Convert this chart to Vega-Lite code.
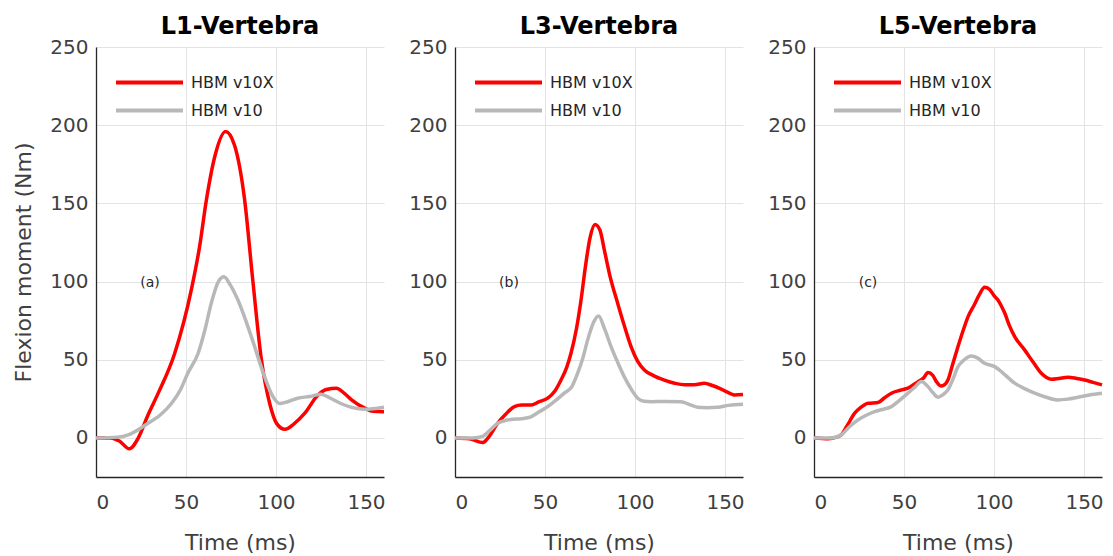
{
  "$schema": "https://vega.github.io/schema/vega-lite/v6.json",
  "padding": {"left": 12, "top": 15, "right": 5, "bottom": 5},
  "background": "white",
  "datasets": {
    "curves": [
      {"panel": "L1", "model": "HBM v10X", "t": 0, "m": 0},
      {"panel": "L1", "model": "HBM v10X", "t": 8, "m": 0},
      {"panel": "L1", "model": "HBM v10X", "t": 13, "m": -2},
      {"panel": "L1", "model": "HBM v10X", "t": 18.5, "m": -7},
      {"panel": "L1", "model": "HBM v10X", "t": 23.5, "m": 0},
      {"panel": "L1", "model": "HBM v10X", "t": 29, "m": 15},
      {"panel": "L1", "model": "HBM v10X", "t": 34.5, "m": 28.5},
      {"panel": "L1", "model": "HBM v10X", "t": 43.7, "m": 54},
      {"panel": "L1", "model": "HBM v10X", "t": 53, "m": 95},
      {"panel": "L1", "model": "HBM v10X", "t": 57.5, "m": 122},
      {"panel": "L1", "model": "HBM v10X", "t": 61.3, "m": 152},
      {"panel": "L1", "model": "HBM v10X", "t": 66, "m": 180},
      {"panel": "L1", "model": "HBM v10X", "t": 72, "m": 196},
      {"panel": "L1", "model": "HBM v10X", "t": 77, "m": 187},
      {"panel": "L1", "model": "HBM v10X", "t": 82.6, "m": 152},
      {"panel": "L1", "model": "HBM v10X", "t": 87, "m": 102},
      {"panel": "L1", "model": "HBM v10X", "t": 91.9, "m": 50},
      {"panel": "L1", "model": "HBM v10X", "t": 96.5, "m": 22},
      {"panel": "L1", "model": "HBM v10X", "t": 100.5, "m": 9},
      {"panel": "L1", "model": "HBM v10X", "t": 105, "m": 5.5},
      {"panel": "L1", "model": "HBM v10X", "t": 110, "m": 9},
      {"panel": "L1", "model": "HBM v10X", "t": 116, "m": 15.8},
      {"panel": "L1", "model": "HBM v10X", "t": 123.3, "m": 27.5},
      {"panel": "L1", "model": "HBM v10X", "t": 128, "m": 31},
      {"panel": "L1", "model": "HBM v10X", "t": 133.5, "m": 31.8},
      {"panel": "L1", "model": "HBM v10X", "t": 138, "m": 28.5},
      {"panel": "L1", "model": "HBM v10X", "t": 142, "m": 24.3},
      {"panel": "L1", "model": "HBM v10X", "t": 149.3, "m": 19},
      {"panel": "L1", "model": "HBM v10X", "t": 154, "m": 17},
      {"panel": "L1", "model": "HBM v10X", "t": 160, "m": 16.8},
      {"panel": "L1", "model": "HBM v10", "t": 0, "m": 0},
      {"panel": "L1", "model": "HBM v10", "t": 12, "m": 0.5},
      {"panel": "L1", "model": "HBM v10", "t": 18, "m": 2},
      {"panel": "L1", "model": "HBM v10", "t": 28.9, "m": 9.4},
      {"panel": "L1", "model": "HBM v10", "t": 36, "m": 15},
      {"panel": "L1", "model": "HBM v10", "t": 41.9, "m": 22},
      {"panel": "L1", "model": "HBM v10", "t": 47, "m": 31},
      {"panel": "L1", "model": "HBM v10", "t": 51, "m": 41.4},
      {"panel": "L1", "model": "HBM v10", "t": 56.7, "m": 54},
      {"panel": "L1", "model": "HBM v10", "t": 60.5, "m": 69},
      {"panel": "L1", "model": "HBM v10", "t": 64, "m": 86},
      {"panel": "L1", "model": "HBM v10", "t": 68, "m": 100},
      {"panel": "L1", "model": "HBM v10", "t": 71.1, "m": 103},
      {"panel": "L1", "model": "HBM v10", "t": 74.5, "m": 98},
      {"panel": "L1", "model": "HBM v10", "t": 78.9, "m": 88},
      {"panel": "L1", "model": "HBM v10", "t": 86.3, "m": 64.8},
      {"panel": "L1", "model": "HBM v10", "t": 93.7, "m": 39},
      {"panel": "L1", "model": "HBM v10", "t": 98, "m": 27},
      {"panel": "L1", "model": "HBM v10", "t": 102, "m": 22},
      {"panel": "L1", "model": "HBM v10", "t": 106, "m": 23},
      {"panel": "L1", "model": "HBM v10", "t": 112, "m": 25.4},
      {"panel": "L1", "model": "HBM v10", "t": 119, "m": 26.5},
      {"panel": "L1", "model": "HBM v10", "t": 125, "m": 28},
      {"panel": "L1", "model": "HBM v10", "t": 130, "m": 25.5},
      {"panel": "L1", "model": "HBM v10", "t": 136, "m": 22},
      {"panel": "L1", "model": "HBM v10", "t": 142, "m": 19.5},
      {"panel": "L1", "model": "HBM v10", "t": 149.3, "m": 18.3},
      {"panel": "L1", "model": "HBM v10", "t": 160, "m": 19.6},
      {"panel": "L3", "model": "HBM v10X", "t": 0, "m": 0},
      {"panel": "L3", "model": "HBM v10X", "t": 8, "m": -0.5},
      {"panel": "L3", "model": "HBM v10X", "t": 15.4, "m": -3},
      {"panel": "L3", "model": "HBM v10X", "t": 19, "m": 1},
      {"panel": "L3", "model": "HBM v10X", "t": 23.7, "m": 9.4},
      {"panel": "L3", "model": "HBM v10X", "t": 28, "m": 15},
      {"panel": "L3", "model": "HBM v10X", "t": 33, "m": 20},
      {"panel": "L3", "model": "HBM v10X", "t": 37, "m": 21},
      {"panel": "L3", "model": "HBM v10X", "t": 42.2, "m": 21},
      {"panel": "L3", "model": "HBM v10X", "t": 46.5, "m": 23},
      {"panel": "L3", "model": "HBM v10X", "t": 51.5, "m": 25.4},
      {"panel": "L3", "model": "HBM v10X", "t": 55.5, "m": 30},
      {"panel": "L3", "model": "HBM v10X", "t": 58.9, "m": 37},
      {"panel": "L3", "model": "HBM v10X", "t": 62, "m": 45},
      {"panel": "L3", "model": "HBM v10X", "t": 64.4, "m": 54},
      {"panel": "L3", "model": "HBM v10X", "t": 67.5, "m": 70},
      {"panel": "L3", "model": "HBM v10X", "t": 70, "m": 88},
      {"panel": "L3", "model": "HBM v10X", "t": 72.5, "m": 110},
      {"panel": "L3", "model": "HBM v10X", "t": 75, "m": 128},
      {"panel": "L3", "model": "HBM v10X", "t": 77.8, "m": 136.5},
      {"panel": "L3", "model": "HBM v10X", "t": 80.5, "m": 133},
      {"panel": "L3", "model": "HBM v10X", "t": 83, "m": 120},
      {"panel": "L3", "model": "HBM v10X", "t": 86, "m": 104},
      {"panel": "L3", "model": "HBM v10X", "t": 90.4, "m": 86},
      {"panel": "L3", "model": "HBM v10X", "t": 94, "m": 72},
      {"panel": "L3", "model": "HBM v10X", "t": 97.8, "m": 58.4},
      {"panel": "L3", "model": "HBM v10X", "t": 101.5, "m": 49},
      {"panel": "L3", "model": "HBM v10X", "t": 105.2, "m": 43.5},
      {"panel": "L3", "model": "HBM v10X", "t": 110, "m": 40},
      {"panel": "L3", "model": "HBM v10X", "t": 116.3, "m": 37},
      {"panel": "L3", "model": "HBM v10X", "t": 122, "m": 35},
      {"panel": "L3", "model": "HBM v10X", "t": 127.4, "m": 34},
      {"panel": "L3", "model": "HBM v10X", "t": 133, "m": 34},
      {"panel": "L3", "model": "HBM v10X", "t": 138.5, "m": 35},
      {"panel": "L3", "model": "HBM v10X", "t": 143, "m": 33.5},
      {"panel": "L3", "model": "HBM v10X", "t": 149.6, "m": 30.3},
      {"panel": "L3", "model": "HBM v10X", "t": 155.2, "m": 27.5},
      {"panel": "L3", "model": "HBM v10X", "t": 160, "m": 27.8},
      {"panel": "L3", "model": "HBM v10", "t": 0, "m": 0},
      {"panel": "L3", "model": "HBM v10", "t": 10, "m": 0},
      {"panel": "L3", "model": "HBM v10", "t": 15.4, "m": 1},
      {"panel": "L3", "model": "HBM v10", "t": 19.5, "m": 5},
      {"panel": "L3", "model": "HBM v10", "t": 23.7, "m": 9.4},
      {"panel": "L3", "model": "HBM v10", "t": 27.5, "m": 11},
      {"panel": "L3", "model": "HBM v10", "t": 31, "m": 11.8},
      {"panel": "L3", "model": "HBM v10", "t": 37, "m": 12.3},
      {"panel": "L3", "model": "HBM v10", "t": 42.2, "m": 13.5},
      {"panel": "L3", "model": "HBM v10", "t": 46.5, "m": 16.5},
      {"panel": "L3", "model": "HBM v10", "t": 51.5, "m": 20},
      {"panel": "L3", "model": "HBM v10", "t": 56, "m": 24},
      {"panel": "L3", "model": "HBM v10", "t": 60.7, "m": 28.6},
      {"panel": "L3", "model": "HBM v10", "t": 65, "m": 33},
      {"panel": "L3", "model": "HBM v10", "t": 68.1, "m": 41.3},
      {"panel": "L3", "model": "HBM v10", "t": 71, "m": 51},
      {"panel": "L3", "model": "HBM v10", "t": 73.7, "m": 62.7},
      {"panel": "L3", "model": "HBM v10", "t": 77, "m": 74},
      {"panel": "L3", "model": "HBM v10", "t": 79.8, "m": 78},
      {"panel": "L3", "model": "HBM v10", "t": 83, "m": 70},
      {"panel": "L3", "model": "HBM v10", "t": 86.7, "m": 58.4},
      {"panel": "L3", "model": "HBM v10", "t": 90.5, "m": 48},
      {"panel": "L3", "model": "HBM v10", "t": 94, "m": 39.2},
      {"panel": "L3", "model": "HBM v10", "t": 98, "m": 31},
      {"panel": "L3", "model": "HBM v10", "t": 101.5, "m": 25.4},
      {"panel": "L3", "model": "HBM v10", "t": 105, "m": 23.5},
      {"panel": "L3", "model": "HBM v10", "t": 108.9, "m": 23.2},
      {"panel": "L3", "model": "HBM v10", "t": 117, "m": 23.3},
      {"panel": "L3", "model": "HBM v10", "t": 125.6, "m": 23.2},
      {"panel": "L3", "model": "HBM v10", "t": 130, "m": 21.5},
      {"panel": "L3", "model": "HBM v10", "t": 134.8, "m": 19.6},
      {"panel": "L3", "model": "HBM v10", "t": 140, "m": 19.3},
      {"panel": "L3", "model": "HBM v10", "t": 145.9, "m": 19.6},
      {"panel": "L3", "model": "HBM v10", "t": 152, "m": 20.8},
      {"panel": "L3", "model": "HBM v10", "t": 160, "m": 21.5},
      {"panel": "L5", "model": "HBM v10X", "t": 0, "m": 0},
      {"panel": "L5", "model": "HBM v10X", "t": 8, "m": -0.5},
      {"panel": "L5", "model": "HBM v10X", "t": 12, "m": 0.3},
      {"panel": "L5", "model": "HBM v10X", "t": 15.2, "m": 2},
      {"panel": "L5", "model": "HBM v10X", "t": 18.5, "m": 8},
      {"panel": "L5", "model": "HBM v10X", "t": 22.6, "m": 15.8},
      {"panel": "L5", "model": "HBM v10X", "t": 26, "m": 19.5},
      {"panel": "L5", "model": "HBM v10X", "t": 30, "m": 22.2},
      {"panel": "L5", "model": "HBM v10X", "t": 35.6, "m": 22.6},
      {"panel": "L5", "model": "HBM v10X", "t": 39, "m": 25.5},
      {"panel": "L5", "model": "HBM v10X", "t": 43, "m": 28.6},
      {"panel": "L5", "model": "HBM v10X", "t": 48, "m": 30.5},
      {"panel": "L5", "model": "HBM v10X", "t": 52.2, "m": 31.8},
      {"panel": "L5", "model": "HBM v10X", "t": 57.8, "m": 36},
      {"panel": "L5", "model": "HBM v10X", "t": 61, "m": 38.5},
      {"panel": "L5", "model": "HBM v10X", "t": 63.3, "m": 41.8},
      {"panel": "L5", "model": "HBM v10X", "t": 66, "m": 40},
      {"panel": "L5", "model": "HBM v10X", "t": 68, "m": 36},
      {"panel": "L5", "model": "HBM v10X", "t": 70.4, "m": 33.2},
      {"panel": "L5", "model": "HBM v10X", "t": 72.5, "m": 34},
      {"panel": "L5", "model": "HBM v10X", "t": 74.4, "m": 37},
      {"panel": "L5", "model": "HBM v10X", "t": 77, "m": 47},
      {"panel": "L5", "model": "HBM v10X", "t": 80, "m": 58.4},
      {"panel": "L5", "model": "HBM v10X", "t": 82.8, "m": 68.5},
      {"panel": "L5", "model": "HBM v10X", "t": 85.6, "m": 77.6},
      {"panel": "L5", "model": "HBM v10X", "t": 89, "m": 85},
      {"panel": "L5", "model": "HBM v10X", "t": 92, "m": 92},
      {"panel": "L5", "model": "HBM v10X", "t": 94.8, "m": 96.3},
      {"panel": "L5", "model": "HBM v10X", "t": 97.5, "m": 95},
      {"panel": "L5", "model": "HBM v10X", "t": 100, "m": 91},
      {"panel": "L5", "model": "HBM v10X", "t": 102.2, "m": 88.2},
      {"panel": "L5", "model": "HBM v10X", "t": 104, "m": 84.5},
      {"panel": "L5", "model": "HBM v10X", "t": 105.9, "m": 80},
      {"panel": "L5", "model": "HBM v10X", "t": 108.5, "m": 72},
      {"panel": "L5", "model": "HBM v10X", "t": 111.5, "m": 64.8},
      {"panel": "L5", "model": "HBM v10X", "t": 117, "m": 56.3},
      {"panel": "L5", "model": "HBM v10X", "t": 122, "m": 48},
      {"panel": "L5", "model": "HBM v10X", "t": 126.3, "m": 41.3},
      {"panel": "L5", "model": "HBM v10X", "t": 131.9, "m": 37.5},
      {"panel": "L5", "model": "HBM v10X", "t": 136, "m": 38},
      {"panel": "L5", "model": "HBM v10X", "t": 141.1, "m": 38.8},
      {"panel": "L5", "model": "HBM v10X", "t": 146, "m": 38},
      {"panel": "L5", "model": "HBM v10X", "t": 150.4, "m": 37},
      {"panel": "L5", "model": "HBM v10X", "t": 155, "m": 35.5},
      {"panel": "L5", "model": "HBM v10X", "t": 160, "m": 33.9},
      {"panel": "L5", "model": "HBM v10", "t": 0, "m": 0},
      {"panel": "L5", "model": "HBM v10", "t": 10, "m": 0},
      {"panel": "L5", "model": "HBM v10", "t": 15.2, "m": 2},
      {"panel": "L5", "model": "HBM v10", "t": 19.5, "m": 7},
      {"panel": "L5", "model": "HBM v10", "t": 24.4, "m": 11.5},
      {"panel": "L5", "model": "HBM v10", "t": 29, "m": 14.5},
      {"panel": "L5", "model": "HBM v10", "t": 33.7, "m": 16.8},
      {"panel": "L5", "model": "HBM v10", "t": 38, "m": 18.2},
      {"panel": "L5", "model": "HBM v10", "t": 43, "m": 20},
      {"panel": "L5", "model": "HBM v10", "t": 47.5, "m": 24},
      {"panel": "L5", "model": "HBM v10", "t": 52.2, "m": 28.6},
      {"panel": "L5", "model": "HBM v10", "t": 56, "m": 32.5},
      {"panel": "L5", "model": "HBM v10", "t": 59.6, "m": 36},
      {"panel": "L5", "model": "HBM v10", "t": 63.3, "m": 32.8},
      {"panel": "L5", "model": "HBM v10", "t": 66, "m": 29},
      {"panel": "L5", "model": "HBM v10", "t": 68.9, "m": 26},
      {"panel": "L5", "model": "HBM v10", "t": 71.5, "m": 27.5},
      {"panel": "L5", "model": "HBM v10", "t": 74.4, "m": 30.7},
      {"panel": "L5", "model": "HBM v10", "t": 77, "m": 37},
      {"panel": "L5", "model": "HBM v10", "t": 80, "m": 45.6},
      {"panel": "L5", "model": "HBM v10", "t": 83.5, "m": 50},
      {"panel": "L5", "model": "HBM v10", "t": 87.4, "m": 52.4},
      {"panel": "L5", "model": "HBM v10", "t": 91, "m": 51},
      {"panel": "L5", "model": "HBM v10", "t": 94.8, "m": 47.7},
      {"panel": "L5", "model": "HBM v10", "t": 100.4, "m": 45.6},
      {"panel": "L5", "model": "HBM v10", "t": 105, "m": 41.5},
      {"panel": "L5", "model": "HBM v10", "t": 111.5, "m": 35},
      {"panel": "L5", "model": "HBM v10", "t": 117, "m": 31.5},
      {"panel": "L5", "model": "HBM v10", "t": 122.6, "m": 28.6},
      {"panel": "L5", "model": "HBM v10", "t": 129, "m": 26},
      {"panel": "L5", "model": "HBM v10", "t": 135.6, "m": 24.3},
      {"panel": "L5", "model": "HBM v10", "t": 141, "m": 24.8},
      {"panel": "L5", "model": "HBM v10", "t": 146.7, "m": 26},
      {"panel": "L5", "model": "HBM v10", "t": 153, "m": 27.5},
      {"panel": "L5", "model": "HBM v10", "t": 160, "m": 28.6}
    ],
    "labels": [
      {"panel": "L1", "t": 30, "m": 99, "label": "(a)"},
      {"panel": "L3", "t": 30, "m": 99, "label": "(b)"},
      {"panel": "L5", "t": 30, "m": 99, "label": "(c)"}
    ]
  },
  "config": {
    "font": "DejaVu Sans",
    "view": {"stroke": null},
    "axis": {
      "grid": true,
      "gridColor": "#e3e3e3",
      "gridWidth": 1,
      "domainColor": "#262626",
      "domainWidth": 1.3,
      "ticks": false,
      "labelFont": "DejaVu Sans",
      "titleFont": "DejaVu Sans",
      "labelFontSize": 20,
      "labelColor": "#404040",
      "titleFontSize": 22,
      "titleFontWeight": "normal",
      "titleColor": "#404040"
    },
    "title": {
      "font": "DejaVu Sans",
      "fontSize": 24,
      "fontWeight": "bold",
      "color": "#000000",
      "frame": "group",
      "offset": -2
    },
    "legend": {
      "orient": "none",
      "legendX": 18,
      "legendY": 27.5,
      "symbolType": "stroke",
      "symbolStrokeWidth": 4,
      "symbolSize": 4489,
      "clipHeight": 16,
      "rowPadding": 12,
      "labelFont": "DejaVu Sans",
      "labelFontSize": 16,
      "labelColor": "#262626",
      "labelOffset": 6,
      "padding": 0
    }
  },
  "resolve": {"legend": {"color": "independent"}},
  "spacing": 71,
  "bounds": "flush",
  "hconcat": [
    {
      "width": 288,
      "height": 430,
      "title": {"text": "L1-Vertebra"},
      "layer": [
        {
          "data": {"name": "curves"},
          "transform": [{"filter": "datum.panel === 'L1'"}],
          "mark": {"type": "line", "strokeWidth": 3.5, "interpolate": "monotone"},
          "encoding": {
            "x": {"field": "t", "type": "quantitative", "title": "Time (ms)", "scale": {"domain": [0, 160], "nice": false}, "axis": {"values": [0, 50, 100, 150], "labelPadding": 15, "titlePadding": 20}},
            "y": {"field": "m", "type": "quantitative", "title": "Flexion moment (Nm)", "scale": {"domain": [-25, 250], "nice": false}, "axis": {"values": [0, 50, 100, 150, 200, 250], "labelPadding": 8, "titlePadding": 14}},
            "color": {"field": "model", "type": "nominal", "title": null, "scale": {"domain": ["HBM v10X", "HBM v10"], "range": ["#ff0000", "#b8b8b8"]}}
          }
        },
        {
          "data": {"name": "labels"},
          "transform": [{"filter": "datum.panel === 'L1'"}],
          "mark": {"type": "text", "fontSize": 14, "color": "#262626"},
          "encoding": {
            "x": {"field": "t", "type": "quantitative"},
            "y": {"field": "m", "type": "quantitative"},
            "text": {"field": "label"}
          }
        }
      ]
    },
    {
      "width": 288,
      "height": 430,
      "title": {"text": "L3-Vertebra"},
      "layer": [
        {
          "data": {"name": "curves"},
          "transform": [{"filter": "datum.panel === 'L3'"}],
          "mark": {"type": "line", "strokeWidth": 3.5, "interpolate": "monotone"},
          "encoding": {
            "x": {"field": "t", "type": "quantitative", "title": "Time (ms)", "scale": {"domain": [0, 160], "nice": false}, "axis": {"values": [0, 50, 100, 150], "labelPadding": 15, "titlePadding": 20}},
            "y": {"field": "m", "type": "quantitative", "title": null, "scale": {"domain": [-25, 250], "nice": false}, "axis": {"values": [0, 50, 100, 150, 200, 250], "labelPadding": 8}},
            "color": {"field": "model", "type": "nominal", "title": null, "scale": {"domain": ["HBM v10X", "HBM v10"], "range": ["#ff0000", "#b8b8b8"]}}
          }
        },
        {
          "data": {"name": "labels"},
          "transform": [{"filter": "datum.panel === 'L3'"}],
          "mark": {"type": "text", "fontSize": 14, "color": "#262626"},
          "encoding": {
            "x": {"field": "t", "type": "quantitative"},
            "y": {"field": "m", "type": "quantitative"},
            "text": {"field": "label"}
          }
        }
      ]
    },
    {
      "width": 288,
      "height": 430,
      "title": {"text": "L5-Vertebra"},
      "layer": [
        {
          "data": {"name": "curves"},
          "transform": [{"filter": "datum.panel === 'L5'"}],
          "mark": {"type": "line", "strokeWidth": 3.5, "interpolate": "monotone"},
          "encoding": {
            "x": {"field": "t", "type": "quantitative", "title": "Time (ms)", "scale": {"domain": [0, 160], "nice": false}, "axis": {"values": [0, 50, 100, 150], "labelPadding": 15, "titlePadding": 20}},
            "y": {"field": "m", "type": "quantitative", "title": null, "scale": {"domain": [-25, 250], "nice": false}, "axis": {"values": [0, 50, 100, 150, 200, 250], "labelPadding": 8}},
            "color": {"field": "model", "type": "nominal", "title": null, "scale": {"domain": ["HBM v10X", "HBM v10"], "range": ["#ff0000", "#b8b8b8"]}}
          }
        },
        {
          "data": {"name": "labels"},
          "transform": [{"filter": "datum.panel === 'L5'"}],
          "mark": {"type": "text", "fontSize": 14, "color": "#262626"},
          "encoding": {
            "x": {"field": "t", "type": "quantitative"},
            "y": {"field": "m", "type": "quantitative"},
            "text": {"field": "label"}
          }
        }
      ]
    }
  ]
}
